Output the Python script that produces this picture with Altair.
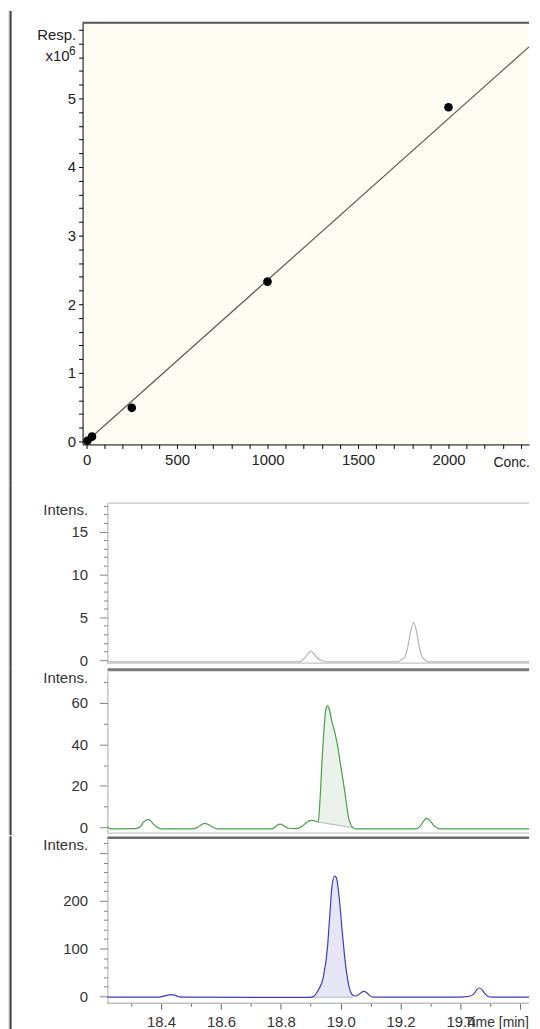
import altair as alt
import pandas as pd

FONT = "Liberation Sans"

# ---------------- calibration curve ----------------
cal_conc = [5, 30, 250, 1000, 2000]
cal_resp = [0.01, 0.07, 0.49, 2.33, 4.87]
fit_conc = [0, 2445]
fit_resp = [0.0, 5.751]
cal_x_ticks = [i * 100 for i in range(25)]
cal_y_ticks = [round(i * 0.2, 1) for i in range(31)]

# ---------------- chromatograms (time in min, intensity) ----------------
gray_t = [18.221, 18.860, 18.878, 18.890, 18.900, 18.910, 18.922, 18.940, 18.960,
          19.190, 19.205, 19.213, 19.222, 19.232, 19.243, 19.253, 19.262, 19.272,
          19.283, 19.295, 19.629]
gray_i = [-0.2, -0.2, 0.2, 0.7, 1.05, 0.75, 0.25, -0.1, -0.2,
          -0.2, 0.1, 0.3, 1.2, 3.0, 4.4, 3.4, 1.6, 0.4,
          0.0, -0.2, -0.2]

green_t = [18.221, 18.232, 18.315, 18.330, 18.340, 18.350, 18.357, 18.365, 18.375,
           18.390, 18.402, 18.505, 18.520, 18.535, 18.546, 18.558, 18.572, 18.588,
           18.770, 18.785, 18.797, 18.810, 18.825, 18.850, 18.870, 18.885, 18.900,
           18.915, 18.925, 18.931, 18.938, 18.945, 18.950, 18.956, 18.962, 18.970,
           18.980, 18.990, 18.997, 19.006, 19.014, 19.020, 19.025, 19.033, 19.041,
           19.051, 19.250, 19.265, 19.276, 19.287, 19.300, 19.315, 19.330, 19.629]
green_i = [0.3, -0.8, -0.7, 0.2, 2.2, 3.5, 3.7, 3.2, 1.4,
           -0.2, -0.8, -0.8, -0.2, 1.2, 1.9, 1.3, 0.1, -0.8,
           -0.8, 0.6, 1.5, 0.8, -0.5, -0.7, 0.3, 2.2, 3.3,
           3.0, 2.5, 13.4, 32.6, 48.6, 56.6, 58.6, 57.0, 51.5,
           46.0, 39.0, 32.6, 24.5, 16.8, 10.5, 5.4, 1.5, -0.2,
           -0.8, -0.8, 0.5, 2.8, 4.3, 2.8, 0.3, -0.8, -0.8]
green_fill_t = [18.925, 19.041]
green_fill_base = [2.5, -0.2]

blue_t = [18.221, 18.390, 18.405, 18.420, 18.433, 18.445, 18.458, 18.470,
          18.897, 18.910, 18.925, 18.942, 18.956, 18.964, 18.971, 18.980, 18.986,
          18.995, 19.005, 19.016, 19.027, 19.041, 19.049, 19.060, 19.070, 19.077,
          19.085, 19.095, 19.108, 19.400, 19.415, 19.430, 19.445, 19.455, 19.463,
          19.472, 19.482, 19.493, 19.505, 19.629]
blue_i = [-2, -2, -0.5, 2.0, 3.5, 2.3, -0.5, -2,
          -2.5, 0, 12.5, 40, 103, 173, 231, 252, 248,
          207, 137, 68, 23, 2, 0.6, 3.5, 8.5, 10.4,
          8.5, 2.5, -2, -2, -1.0, 0, 5, 14, 17.3,
          14, 5, -0.5, -2, -2]
blue_fill_t = [18.897, 19.041]
blue_fill_base = [-2.0, -2.0]

time_ticks = [round(18.3 + 0.1 * i, 1) for i in range(14)]
y1_ticks = list(range(0, 19))
y2_ticks = list(range(0, 71, 10))
y3_ticks = list(range(0, 321, 20))

one = pd.DataFrame({"k": [0]})


def strip(left, top, bottom):
    light = alt.Chart(one).mark_rect(color="#e3e7ec").encode(
        x=alt.value(left), x2=alt.value(left + 1.6), y=alt.value(top), y2=alt.value(bottom))
    dark = alt.Chart(one).mark_rect(color="#3c3c3c").encode(
        x=alt.value(left + 1.6), x2=alt.value(left + 3.6), y=alt.value(top), y2=alt.value(bottom))
    return [light, dark]


def hline(y, x0, x1, color, sw):
    return alt.Chart(one).mark_rule(color=color, strokeWidth=sw).encode(
        x=alt.value(x0), x2=alt.value(x1), y=alt.value(y))


def label(text, x, y, size):
    return alt.Chart(one).mark_text(text=text, align="right", baseline="alphabetic",
                                    font=FONT, fontSize=size, color="#222").encode(
        x=alt.value(x), y=alt.value(y))


# ---------------- calibration chart ----------------
W, H_CAL = 449, 424
cal_df = pd.DataFrame({"conc": cal_conc, "resp": cal_resp})
fit_df = pd.DataFrame({"conc": fit_conc, "resp": fit_resp})

cx = alt.X("conc:Q", scale=alt.Scale(domain=[-22, 2445], nice=False, zero=False),
           axis=alt.Axis(values=cal_x_ticks, tickCount=len(cal_x_ticks),
                         labelExpr="datum.value % 500 === 0 ? format(datum.value, 'd') : ''",
                         labelFont=FONT, labelFontSize=15, labelColor="#222",
                         labelPadding=4, labelOverlap=False, labelFlush=False,
                         tickSize=4, tickColor="#000", domainColor="#000", grid=False,
                         title="Conc.", titleX=431, titleY=18, titleAlign="center",
                         titleBaseline="middle", titleFont=FONT, titleFontSize=14,
                         titleFontWeight="normal", titleColor="#222"))
cy = alt.Y("resp:Q", scale=alt.Scale(domain=[-0.0435, 6.101], nice=False, zero=False),
           axis=alt.Axis(values=cal_y_ticks, tickCount=len(cal_y_ticks),
                         labelExpr="(abs(datum.value - round(datum.value)) < 0.01 && datum.value <= 5) ? format(datum.value, 'd') : ''",
                         labelFont=FONT, labelFontSize=15, labelColor="#222",
                         labelPadding=3, labelOverlap=False, labelFlush=False,
                         tickSize=4, tickColor="#000", domainColor="#000", grid=False,
                         title="Resp.", titleAngle=0, titleAlign="right",
                         titleBaseline="alphabetic", titleX=-7, titleY=17,
                         titleFont=FONT, titleFontSize=15,
                         titleFontWeight="normal", titleColor="#222"))

fit_line = alt.Chart(fit_df).mark_line(color="#5a5a5a", strokeWidth=1.2).encode(x=cx, y=cy)
cal_pts = alt.Chart(cal_df).mark_circle(size=75, color="#000", opacity=1).encode(x=cx, y=cy)

cal = alt.layer(
    fit_line, cal_pts, hline(0, 0, W, "#555555", 2),
    label("x10", -13, 38, 15), label("6", -7, 32, 12),
    *strip(-75, -12, 465)
).properties(width=W, height=H_CAL,
             view=alt.ViewBackground(fill="#fdfdf3", stroke="transparent"))

# ---------------- chromatogram panels ----------------
AX = 25  # y axis sits 25 px inside the panel's left edge
TIME_DOMAIN = [18.138, 19.629]


def y_axis(ticks, major, top_label, title_y):
    return alt.Axis(values=ticks, tickCount=len(ticks), offset=-AX,
                    labelExpr=f"(datum.value % {major} === 0 && datum.value <= {top_label}) ? format(datum.value, 'd') : ''",
                    labelFont=FONT, labelFontSize=15, labelColor="#333",
                    labelPadding=12, labelOverlap=False, labelFlush=False,
                    tickSize=8, tickColor="#808080",
                    tickDash={"condition": {"test": f"datum.value % {major} !== 0",
                                            "value": [4, 10]}, "value": [10, 0]},
                    domainColor="#a8a8a8", grid=False,
                    title="Intens.", titleAngle=0, titleAlign="right",
                    titleBaseline="middle", titleX=-20, titleY=title_y,
                    titleFont=FONT, titleFontSize=15, titleFontWeight="normal",
                    titleColor="#333")


x_axis_bottom = alt.Axis(values=time_ticks, tickCount=len(time_ticks), domain=False,
                         labelExpr="(round(datum.value * 10) % 2 === 0 && datum.value < 19.5) ? format(datum.value, '.1f') : ''",
                         labelFont=FONT, labelFontSize=15, labelColor="#333",
                         labelPadding=5, labelOverlap=False, labelFlush=False,
                         tickSize=6, tickColor="#666",
                         tickDash={"condition": {"test": "round(datum.value * 10) % 2 !== 0",
                                                 "value": [3, 10]}, "value": [10, 0]},
                         grid=False,
                         title="Time [min]", titleX=416, titleY=19, titleAlign="center",
                         titleBaseline="middle", titleFont=FONT, titleFontSize=14,
                         titleFontWeight="normal", titleColor="#333")


def panel(t, inten, color, height, domain, ticks, major, top_label, title_y, xaxis,
          strip_top, strip_bottom, extra, fill=None):
    df = pd.DataFrame({"t": t, "i": inten})
    X = alt.X("t:Q", scale=alt.Scale(domain=TIME_DOMAIN, nice=False, zero=False), axis=xaxis)
    Y = alt.Y("i:Q", scale=alt.Scale(domain=domain, nice=False, zero=False),
              axis=y_axis(ticks, major, top_label, title_y))
    layers = []
    if fill is not None:
        ft, fb, fcol = fill
        t0, t1 = ft
        b0, b1 = fb
        area = alt.Chart(df).transform_filter(
            f"datum.t >= {t0 - 1e-6} && datum.t <= {t1 + 1e-6}"
        ).transform_calculate(
            b=f"{b0} + ({b1} - ({b0})) * (datum.t - {t0}) / ({t1} - {t0})"
        ).mark_area(color=fcol, opacity=1, interpolate="monotone").encode(
            x=X, y=Y, y2=alt.Y2("b:Q"))
        base_df = pd.DataFrame({"t": ft, "i": fb})
        base = alt.Chart(base_df).mark_line(color="#b4b4b4", strokeWidth=1).encode(x=X, y=Y)
        layers += [area, base]
    line = alt.Chart(df).mark_line(color=color, strokeWidth=1.2,
                                   interpolate="monotone").encode(x=X, y=Y)
    layers.append(line)
    layers += extra
    layers += strip(-75, strip_top, strip_bottom)
    return alt.layer(*layers).properties(
        width=W, height=height,
        view=alt.ViewBackground(fill="#ffffff", stroke="transparent"))


p1 = panel(gray_t, gray_i, "#b4b4b4", 161, [-0.35, 18.31], y1_ticks, 5, 15, 6, None,
           -18, 166,
           [hline(0, AX, W, "#c4c4c4", 1.2), hline(161, AX, W, "#c4c4c4", 1.2)])
p2 = panel(green_t, green_i, "#46a046", 162, [-2.88, 74.9], y2_ticks, 20, 60, 5, None,
           -4, 164,
           [hline(-2.5, AX, W, "#7c7c7c", 3), hline(162, AX, W, "#c4c4c4", 1.2)],
           fill=(green_fill_t, green_fill_base, "#ebf2eb"))
p3 = panel(blue_t, blue_i, "#3d3dc4", 165, [-14.6, 329.2], y3_ticks, 100, 200, 5,
           x_axis_bottom, -3, 191,
           [hline(-1.5, AX, W, "#6a6a6a", 2.5), hline(165, AX, W, "#a0a0a0", 1)],
           fill=(blue_fill_t, blue_fill_base, "#e6e6f7"))

chart = alt.concat(cal, p1, p2, p3, columns=1, spacing=0).properties(
    padding=0, background="#ffffff"
).configure_view(strokeWidth=0)

chart.save("out.html", embed_options={"renderer": "svg", "actions": False})
